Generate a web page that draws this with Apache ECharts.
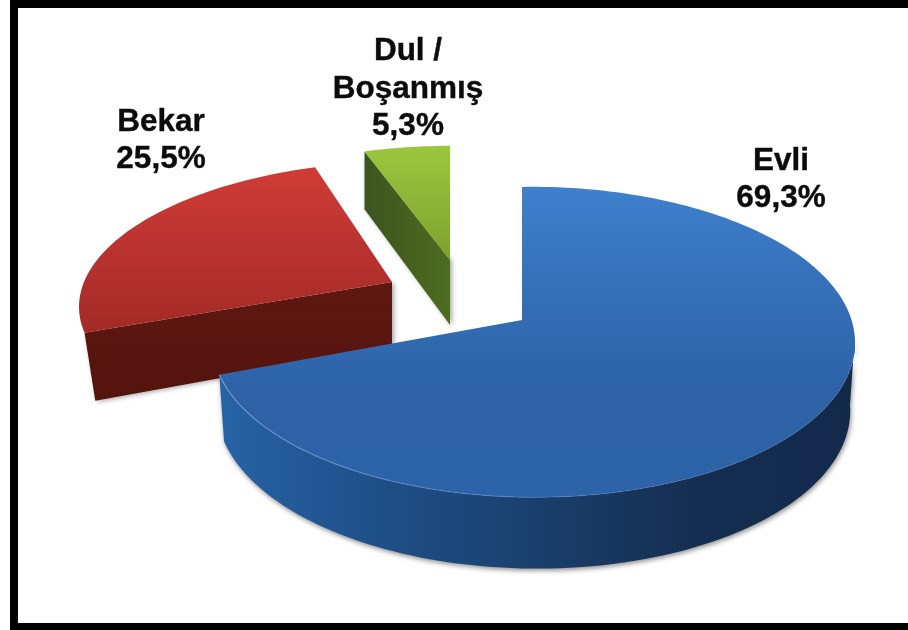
<!DOCTYPE html>
<html>
<head>
<meta charset="utf-8">
<style>html,body{margin:0;padding:0;background:#fff}#c{width:908px;height:630px}</style>
<script src="https://cdn.jsdelivr.net/npm/echarts@6/dist/echarts.min.js"></script>
</head>
<body>
<div id="c"></div>
<script>
const categories = ['Evli', 'Bekar', 'Dul /\nBoşanmış'];
const shares = [69.3, 25.5, 5.3];
const valueLabels = ['69,3%', '25,5%', '5,3%'];

// Projection of each exploded slice: the disk seen in perspective.
const views = [
  {ax:522, ay:320, R:318, G:152, p:.142, w:.035, s:0,  D:66, dp:.5, vx:535, taper:.985, z:3},
  {ax:392, ay:282, R:308, G:136.4, p:.13, w:0,   s:15, D:65, dp:1,  vx:392, taper:.965, z:1},
  {ax:450, ay:260, R:294, G:129, p:.13, w:0,     s:0,  D:65, dp:1,  vx:450, taper:1,    z:2}
];
const labelAnchors = [[781,180],[161,141],[408,89]];
const G = (x,y,x2,y2,stops)=>new echarts.graphic.LinearGradient(x,y,x2,y2,stops.map((c,i)=>({offset:i/(stops.length-1),color:c})));
const topFills = [
  G(0,0,0,1,['#3f7fcd','#3570b8','#2d62a6','#2d63a8']),
  G(0,0,0,1,['#cf3c36','#b93230','#a32a26']),
  G(0,0,0,1,['#9cc63e','#8db437','#7ea02c'])
];
const wallFills = [
  G(0,0,1,0,['#2663a6','#1f4f88','#1a3f6c','#152e50','#12294a']),
  G(0,0,0,1,['#5e1810','#54130e']),
  G(0,0,1,0,['#3d5420','#4d6c1e'])
];

const total = shares.reduce((a,b)=>a+b,0);
const starts = [];
shares.reduce((acc,v,i)=>{starts[i]=acc; return acc+v;},0);

function project(v, t, r){
  const u = Math.sin(t)*r, w = Math.cos(t)*r;
  const den = 1 + v.p*w - v.w*u;
  return {x: v.ax + (v.R*u + v.s*w)/den, y: v.ay - v.G*w/den, f: 1/den};
}
const lower = (v,q)=>[v.vx + (q.x-v.vx)*v.taper, q.y + v.D*Math.pow(q.f,v.dp)];
const RAD = Math.PI/180;

function renderItem(params, api){
  const i = params.dataIndex;
  const v = views[i];
  const a0 = api.value(1)/total*360, a1 = a0 + api.value(0)/total*360;
  const apex = project(v,0,0);
  const arc = [];
  const n = Math.max(8, Math.round((a1-a0)/1.5));
  for(let k=0;k<=n;k++) arc.push(project(v,(a0+(a1-a0)*k/n)*RAD,1));
  const children = [];

  // outer wall: only the part of the rim that faces the viewer, for a slice spanning the front
  const front = [];
  if(a0 < 180 && a1 > 180){
    for(let k=0;k<=n;k++){
      const d = a0+(a1-a0)*k/n;
      if(Math.cos(d*RAD) < -0.1) front.push(arc[k]);
    }
  }
  if(front.length>1){
    const pts = front.map(q=>[q.x,q.y]).concat(front.slice().reverse().map(q=>lower(v,q)));
    children.push({type:'polygon', z2:v.z*10, shape:{points:pts},
      style:{fill:wallFills[i], shadowBlur:5, shadowColor:'rgba(0,0,0,0.45)', shadowOffsetX:1, shadowOffsetY:2}});
  }
  // radial wall on the leading edge, when it faces the viewer
  if(Math.cos((a0-90)*RAD) < -0.01){
    const e = arc[0];
    children.push({type:'polygon', z2:v.z*10+1,
      shape:{points:[[apex.x,apex.y],[e.x,e.y],lower(v,e),lower(v,apex)]},
      style:{fill:wallFills[i], shadowBlur:5, shadowColor:'rgba(0,0,0,0.35)', shadowOffsetX:2, shadowOffsetY:1}});
  }
  // top face
  children.push({type:'polygon', z2:v.z*10+2,
    shape:{points:[[apex.x,apex.y]].concat(arc.map(q=>[q.x,q.y]))},
    style:{fill:topFills[i]}});
  // soft rim light along the front edge
  if(front.length>1){
    children.push({type:'polyline', z2:v.z*10+3,
      shape:{points:front.map(q=>[q.x,q.y])},
      style:{fill:null, stroke:G(0,0,1,0,['rgba(120,165,220,0.75)','rgba(90,140,200,0.35)','rgba(60,110,170,0)']), lineWidth:1.2}});
  }
  // label
  children.push({type:'text', z2:100, x:labelAnchors[i][0], y:labelAnchors[i][1],
    style:{text:categories[i]+'\n'+valueLabels[i], fill:'#0c0c0c', stroke:'#0c0c0c', lineWidth:0.4, align:'center', verticalAlign:'middle',
      font:'bold 31.5px "Liberation Sans", Arial, sans-serif', lineHeight:37.5}});
  return {type:'group', children};
}

const chart = echarts.init(document.getElementById('c'), null, {renderer:'canvas'});
chart.setOption({
  animation:false,
  backgroundColor:'#ffffff',
  graphic:[
    {type:'rect', silent:true, shape:{x:10,y:0,width:8,height:630}, style:{fill:'#000'}, z:50},
    {type:'rect', silent:true, shape:{x:10,y:0,width:898,height:8}, style:{fill:'#000'}, z:50},
    {type:'rect', silent:true, shape:{x:10,y:623,width:898,height:7}, style:{fill:'#000'}, z:50}
  ],
  series:[{
    type:'custom',
    coordinateSystem:'none',
    silent:true,
    renderItem,
    data: shares.map((v,i)=>({name:categories[i].replace('\n',' '), value:[v, starts[i]]}))
  }]
});
</script>
</body>
</html>
